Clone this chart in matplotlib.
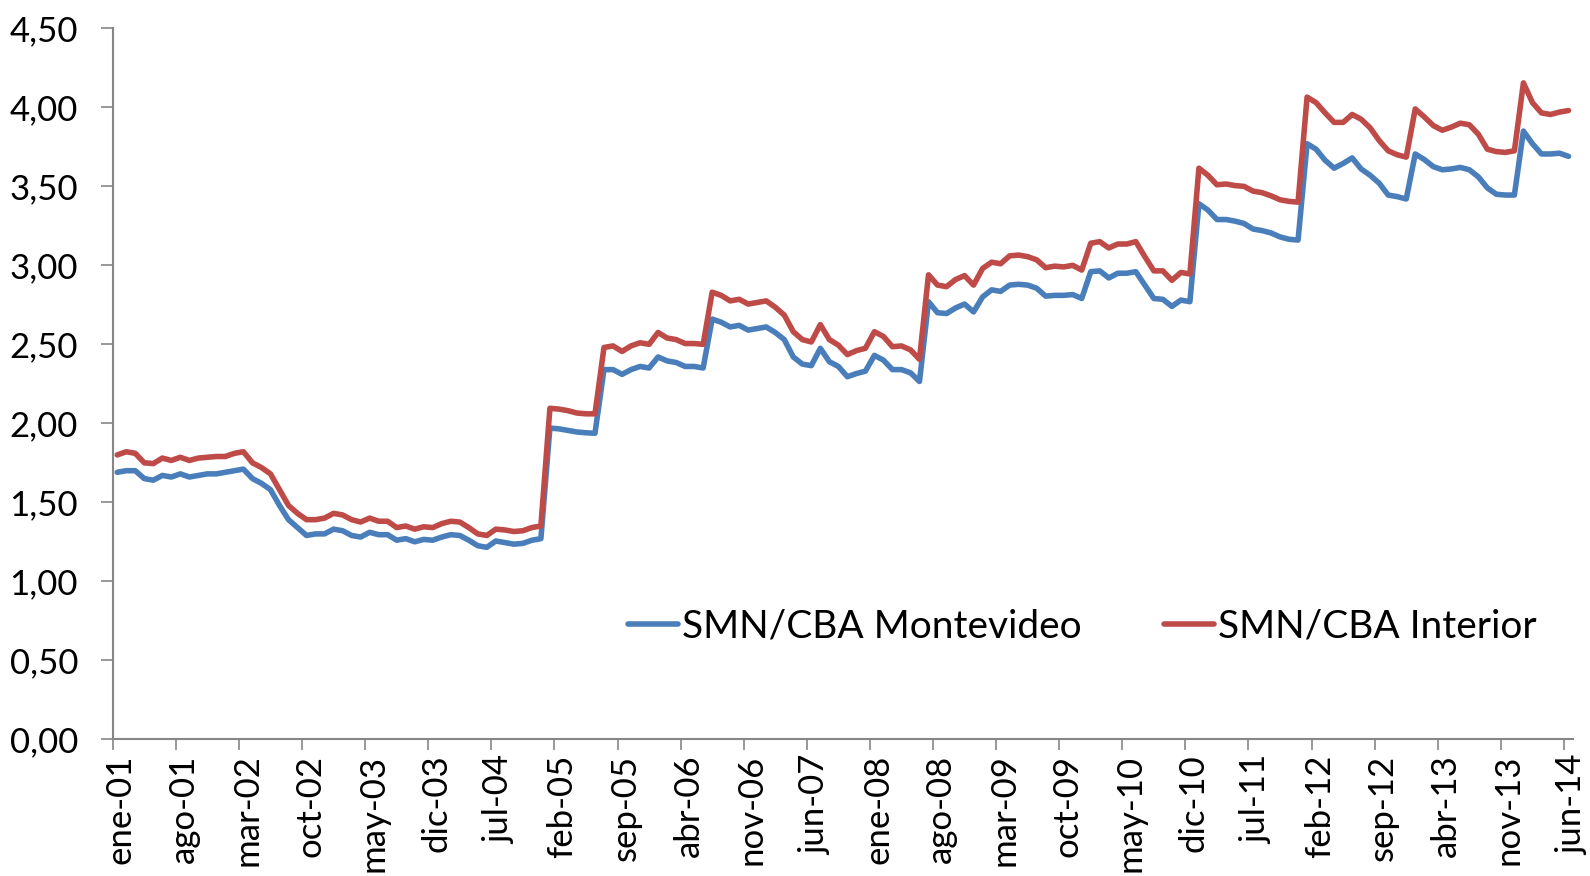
import matplotlib.pyplot as plt
import numpy as np

# monthly series, ene-01 .. jun-14 (162 months)
montevideo = [
    1.69, 1.70, 1.70, 1.65, 1.64, 1.67, 1.66, 1.68, 1.66, 1.67, 1.68, 1.68,
    1.69, 1.70, 1.71, 1.65, 1.62, 1.58, 1.48, 1.39, 1.34, 1.29, 1.30, 1.30,
    1.33, 1.32, 1.29, 1.28, 1.31, 1.295, 1.295, 1.26, 1.27, 1.25, 1.265, 1.26,
    1.28, 1.295, 1.29, 1.26, 1.225, 1.215, 1.255, 1.245, 1.235, 1.24, 1.26, 1.27,
    1.97, 1.965, 1.955, 1.945, 1.94, 1.937, 2.34, 2.34, 2.31, 2.34, 2.36, 2.35,
    2.42, 2.395, 2.385, 2.36, 2.36, 2.35, 2.66, 2.64, 2.61, 2.62, 2.59, 2.60,
    2.61, 2.575, 2.53, 2.42, 2.375, 2.365, 2.475, 2.39, 2.36, 2.295, 2.315, 2.33,
    2.43, 2.40, 2.34, 2.34, 2.32, 2.265, 2.77, 2.70, 2.695, 2.73, 2.755, 2.705,
    2.80, 2.845, 2.835, 2.875, 2.88, 2.875, 2.855, 2.805, 2.81, 2.81, 2.815, 2.79,
    2.96, 2.965, 2.92, 2.95, 2.95, 2.96, 2.875, 2.79, 2.785, 2.74, 2.78, 2.77,
    3.39, 3.35, 3.29, 3.29, 3.28, 3.265, 3.23, 3.22, 3.205, 3.18, 3.165, 3.16,
    3.77, 3.735, 3.665, 3.615, 3.645, 3.68, 3.61, 3.57, 3.52, 3.445, 3.435, 3.42,
    3.705, 3.67, 3.625, 3.605, 3.61, 3.62, 3.605, 3.56, 3.49, 3.45, 3.445, 3.445,
    3.85, 3.77, 3.705, 3.705, 3.71, 3.69,
]
interior = [
    1.80, 1.82, 1.81, 1.75, 1.745, 1.78, 1.765, 1.785, 1.765, 1.78, 1.785, 1.79,
    1.79, 1.81, 1.82, 1.75, 1.72, 1.68, 1.58, 1.48, 1.43, 1.39, 1.39, 1.40,
    1.43, 1.42, 1.39, 1.375, 1.40, 1.38, 1.38, 1.34, 1.35, 1.33, 1.345, 1.34,
    1.365, 1.38, 1.375, 1.34, 1.30, 1.29, 1.33, 1.325, 1.315, 1.32, 1.34, 1.35,
    2.095, 2.09, 2.08, 2.065, 2.06, 2.06, 2.48, 2.49, 2.455, 2.49, 2.51, 2.50,
    2.575, 2.54, 2.53, 2.505, 2.505, 2.50, 2.83, 2.81, 2.775, 2.785, 2.755, 2.765,
    2.775, 2.735, 2.685, 2.58, 2.53, 2.515, 2.625, 2.53, 2.495, 2.435, 2.46, 2.475,
    2.58, 2.55, 2.485, 2.49, 2.465, 2.405, 2.94, 2.875, 2.865, 2.91, 2.935, 2.875,
    2.98, 3.02, 3.01, 3.06, 3.065, 3.055, 3.035, 2.985, 2.995, 2.99, 3.00, 2.97,
    3.14, 3.15, 3.11, 3.135, 3.135, 3.15, 3.055, 2.965, 2.965, 2.905, 2.955, 2.945,
    3.615, 3.57, 3.51, 3.515, 3.505, 3.50, 3.47, 3.46, 3.44, 3.415, 3.405, 3.40,
    4.065, 4.03, 3.965, 3.905, 3.905, 3.955, 3.925, 3.87, 3.79, 3.725, 3.70, 3.685,
    3.99, 3.94, 3.885, 3.855, 3.875, 3.90, 3.89, 3.83, 3.735, 3.72, 3.715, 3.725,
    4.155, 4.03, 3.965, 3.955, 3.97, 3.98,
]
tick_labels = ["ene-01", "ago-01", "mar-02", "oct-02", "may-03", "dic-03",
               "jul-04", "feb-05", "sep-05", "abr-06", "nov-06", "jun-07",
               "ene-08", "ago-08", "mar-09", "oct-09", "may-10", "dic-10",
               "jul-11", "feb-12", "sep-12", "abr-13", "nov-13", "jun-14"]
y_ticks = [0, 0.5, 1, 1.5, 2, 2.5, 3, 3.5, 4, 4.5]

plt.rcParams['font.family'] = ['Lato', 'DejaVu Sans']
axis_grey = '#868686'

fig = plt.figure(figsize=(15.9, 8.76), dpi=100)
ax = fig.add_axes([0.0709, 0.1561, 0.9184, 0.8115])

x = np.arange(len(montevideo))
ax.plot(x, montevideo, color='#4A7EBB', lw=4.0, label='SMN/CBA Montevideo',
        solid_joinstyle='round', solid_capstyle='round')
ax.plot(x, interior, color='#BE4B48', lw=4.0, label='SMN/CBA Interior',
        solid_joinstyle='round', solid_capstyle='round')

ax.set_xlim(-0.5, len(x) - 0.5)
ax.set_ylim(0, 4.5)

# tick marks between categories, labels shifted a bit right like Excel
tick_pos = np.arange(len(tick_labels)) * 7 - 0.5
ax.set_xticks(tick_pos)
ax.set_xticklabels([])
ax.set_xticks(tick_pos + 0.9, minor=True)
ax.set_xticklabels(tick_labels, minor=True, rotation=90, fontsize=25)
ax.tick_params(axis='x', which='minor', length=0, pad=11)
ax.tick_params(axis='x', which='major', length=8, width=1.2, color=axis_grey)

ax.set_yticks(y_ticks)
ax.set_yticklabels([f"{v:.2f}".replace('.', ',') for v in y_ticks], fontsize=25)
ax.tick_params(axis='y', length=9, width=1.2, color=axis_grey, pad=16)

for side in ['top', 'right']:
    ax.spines[side].set_visible(False)
for side in ['left', 'bottom']:
    ax.spines[side].set_color(axis_grey)
    ax.spines[side].set_linewidth(1.5)

ax.legend(loc='center', bbox_to_anchor=(0.664, 0.159), ncol=2, frameon=False,
          fontsize=28, handlelength=1.3, handletextpad=0.1, columnspacing=2.1)

fig.savefig('out.png', dpi=100)
